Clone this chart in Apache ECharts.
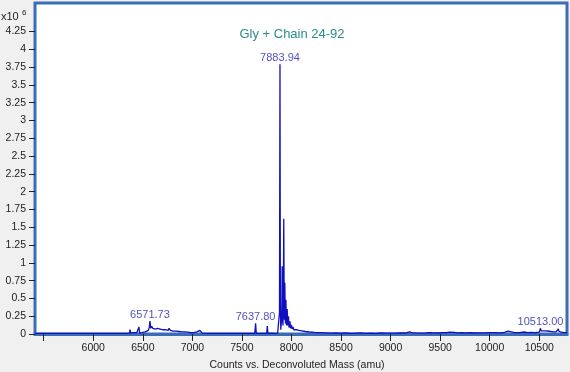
<!DOCTYPE html>
<html><head><meta charset="utf-8">
<script src="https://cdn.jsdelivr.net/npm/echarts@6/dist/echarts.min.js"></script>
<style>html,body{margin:0;padding:0;background:#f0f0f0}#c{width:570px;height:372px}</style>
</head><body><div id="c"></div><script>
// Deconvoluted mass (amu) and counts (x10^6)
const massValues = [
  5412, 5800, 6200, 6340, 6365, 6371, 6378, 6400, 6420, 6440, 6455, 6461, 6467, 6490, 6510, 6525,
  6540, 6555, 6565, 6571.73, 6580, 6590, 6600, 6612, 6625, 6638, 6650, 6662, 6675, 6688, 6700,
  6712, 6725, 6740, 6755, 6765, 6778, 6790, 6805, 6820, 6835, 6850, 6865, 6880, 6895, 6910,
  6925, 6940, 6955, 6970, 6985, 7000, 7015, 7030, 7045, 7055, 7065, 7075, 7085, 7100, 7120,
  7200, 7300, 7400, 7500, 7510, 7518, 7600, 7630, 7637.80, 7645, 7700, 7750, 7756, 7762, 7800,
  7830, 7860, 7874, 7879, 7881, 7883.94, 7886, 7888, 7892, 7897, 7902, 7906, 7910, 7914, 7918,
  7922, 7926, 7929, 7933, 7937, 7940, 7944, 7948, 7952, 7957, 7961, 7965, 7970, 7975, 7980,
  7985, 7990, 7994, 7999, 8004, 8010, 8016, 8022, 8030, 8040, 8050, 8060, 8075, 8090, 8105,
  8120, 8140, 8160, 8180, 8200, 8230, 8260, 8300, 8350, 8400, 8450, 8470, 8490, 8550, 8600,
  8650, 8700, 8750, 8800, 8850, 8900, 8950, 9000, 9050, 9100, 9150, 9190, 9200, 9215, 9260,
  9300, 9350, 9400, 9430, 9480, 9520, 9560, 9600, 9640, 9680, 9720, 9760, 9800, 9850, 9900,
  9950, 10000, 10050, 10100, 10150, 10185, 10200, 10250, 10300, 10350, 10380, 10420, 10460, 10500, 10508,
  10513, 10518, 10530, 10550, 10570, 10590, 10610, 10640, 10670, 10685, 10692, 10698, 10720, 10750, 10780
];
const countValues = [
  0.008, 0.008, 0.008, 0.009, 0.012, 0.06, 0.012, 0.02, 0.015, 0.02, 0.015, 0.10, 0.015, 0.02, 0.025, 0.03,
  0.03, 0.05, 0.09, 0.18, 0.08, 0.11, 0.08, 0.10, 0.07, 0.09, 0.08, 0.09, 0.07, 0.08, 0.06,
  0.07, 0.06, 0.07, 0.05, 0.08, 0.05, 0.06, 0.04, 0.05, 0.04, 0.05, 0.035, 0.045, 0.03, 0.04,
  0.03, 0.035, 0.025, 0.03, 0.02, 0.015, 0.02, 0.015, 0.03, 0.045, 0.035, 0.05, 0.03, 0.012, 0.01,
  0.009, 0.01, 0.009, 0.01, 0.025, 0.01, 0.01, 0.01, 0.15, 0.01, 0.01, 0.01, 0.11, 0.01, 0.012,
  0.01, 0.01, 0.015, 0.3, 1.8, 3.79, 1.9, 0.4, 0.06, 0.05, 0.25, 0.95, 0.2, 0.12, 0.45,
  1.62, 0.5, 0.2, 0.72, 0.2, 0.15, 0.48, 0.15, 0.12, 0.35, 0.12, 0.1, 0.25, 0.09, 0.08,
  0.18, 0.08, 0.07, 0.13, 0.07, 0.06, 0.1, 0.06, 0.08, 0.05, 0.06, 0.045, 0.05, 0.04, 0.045,
  0.035, 0.035, 0.03, 0.028, 0.025, 0.022, 0.02, 0.018, 0.015, 0.012, 0.015, 0.022, 0.012, 0.014, 0.01,
  0.013, 0.016, 0.01, 0.012, 0.01, 0.014, 0.012, 0.011, 0.013, 0.015, 0.014, 0.03, 0.035, 0.02, 0.015,
  0.013, 0.016, 0.02, 0.015, 0.014, 0.018, 0.02, 0.025, 0.022, 0.016, 0.02, 0.015, 0.018, 0.014, 0.016,
  0.015, 0.018, 0.02, 0.016, 0.022, 0.04, 0.02, 0.018, 0.02, 0.028, 0.018, 0.022, 0.02, 0.025, 0.05,
  0.08, 0.045, 0.04, 0.045, 0.04, 0.042, 0.035, 0.03, 0.03, 0.045, 0.07, 0.04, 0.025, 0.02, 0.02
];
// Labelled peaks
const peakMasses = [6571.73, 7637.80, 7883.94, 10513.00];
const peakCounts = [0.18, 0.15, 3.79, 0.08];
// Axis ticks
const xTickValues = [5500, 6000, 6500, 7000, 7500, 8000, 8500, 9000, 9500, 10000, 10500];
const xLabelValues = [6000, 6500, 7000, 7500, 8000, 8500, 9000, 9500, 10000, 10500];
const yTickValues = [0, 0.25, 0.5, 0.75, 1, 1.25, 1.5, 1.75, 2, 2.25, 2.5, 2.75, 3, 3.25, 3.5, 3.75, 4, 4.25];
const chartTitle = 'Gly + Chain 24-92';
const xAxisTitle = 'Counts vs. Deconvoluted Mass (amu)';

const FONT = '"Liberation Sans", Arial, sans-serif';
const BLUE_FRAME = '#3b6db6';
const chart = echarts.init(document.getElementById('c'), null, {renderer: 'canvas'});
chart.setOption({
  animation: false,
  backgroundColor: '#f0f0f0',
  grid: {left: 35, right: 3, top: 3, bottom: 38, show: true, backgroundColor: '#ffffff',
         borderColor: BLUE_FRAME, borderWidth: 3},
  xAxis: {
    type: 'value', min: 5412, max: 10780, offset: 1,
    splitLine: {show: false},
    axisLine: {show: true, lineStyle: {color: BLUE_FRAME, width: 3}},
    axisTick: {show: true, length: 7, customValues: xTickValues, lineStyle: {color: '#222'}},
    axisLabel: {customValues: xLabelValues, margin: 8, color: '#222', fontSize: 10.5, fontFamily: FONT,
      formatter: v => String(v)}
  },
  yAxis: {
    type: 'value', min: 0, max: 4.65,
    splitLine: {show: false},
    axisLine: {show: false},
    axisTick: {show: true, length: 6, customValues: yTickValues, lineStyle: {color: '#222'}},
    axisLabel: {customValues: yTickValues, margin: 9, color: '#222', fontSize: 10.5, fontFamily: FONT,
      formatter: v => String(v)}
  },
  graphic: [
    {type: 'text', x: 292, y: 34, style: {text: chartTitle, align: 'center', verticalAlign: 'middle',
      fill: '#2b8c8c', fontSize: 13, fontFamily: FONT}},
    {type: 'text', x: 1, y: 16.5, style: {text: 'x10', align: 'left', verticalAlign: 'middle',
      fill: '#222', fontSize: 11, fontFamily: FONT}},
    {type: 'text', x: 22, y: 12.5, style: {text: '6', align: 'left', verticalAlign: 'middle',
      fill: '#222', fontSize: 8, fontFamily: FONT}},
    {type: 'text', x: 297, y: 365, style: {text: xAxisTitle, align: 'center', verticalAlign: 'middle',
      fill: '#222', fontSize: 10.5, fontFamily: FONT}}
  ],
  series: [
    {type: 'line', data: massValues.map((m, i) => [m, countValues[i]]), showSymbol: false,
     symbol: 'none', sampling: null, lineStyle: {color: '#1010c0', width: 1.3}, z: 3},
    {type: 'scatter', data: peakMasses.map((m, i) => [m, peakCounts[i]]), symbolSize: 0, z: 4,
     label: {show: true, position: 'top', distance: 1, color: '#1e1eaa', fontSize: 11, fontFamily: FONT,
       formatter: p => p.value[0].toFixed(2)}}
  ]
});
</script></body></html>
